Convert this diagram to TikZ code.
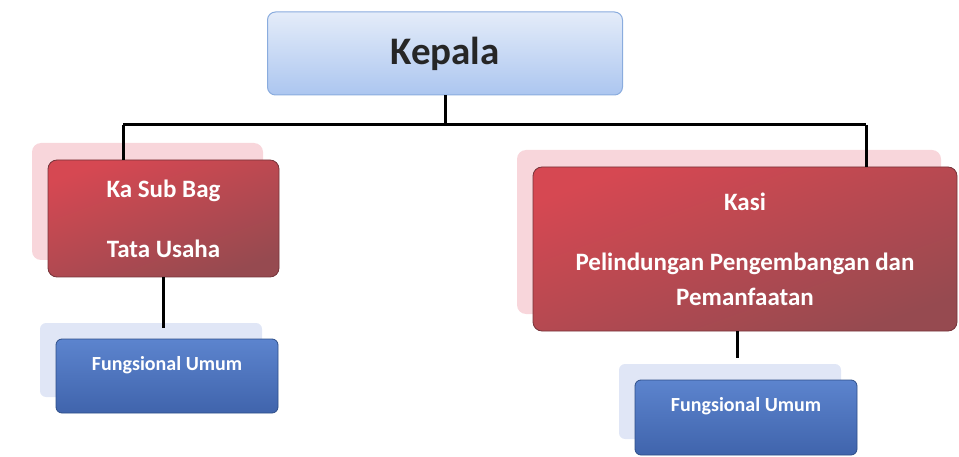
\documentclass[tikz,border=0pt]{standalone}
\usepackage{fontspec}
\setmainfont{Carlito}
\usetikzlibrary{shadows}
\definecolor{headtop}{RGB}{228,236,249}
\definecolor{headbot}{RGB}{172,198,240}
\definecolor{headline}{RGB}{138,172,222}
\definecolor{redtop}{RGB}{214,72,82}
\definecolor{redbot}{RGB}{150,74,80}
\definecolor{redline}{RGB}{118,52,58}
\definecolor{redshade}{RGB}{248,214,219}
\definecolor{bluetop}{RGB}{92,132,206}
\definecolor{bluebot}{RGB}{64,100,172}
\definecolor{blueline}{RGB}{46,78,136}
\definecolor{blueshade}{RGB}{224,230,246}
\begin{document}
\begin{tikzpicture}[x = 1pt, y = -1pt,
  headbox/.style = {draw = headline, line width = 1pt, rounded corners = 8,
    top color = headtop, bottom color = headbot, text = black!85,
    font = \fontsize{39}{42}\selectfont\bfseries, inner sep = 0pt},
  secbox/.style = {draw = redline, line width = .8pt, rounded corners = 9,
    top color = redtop, bottom color = redbot, shading angle = 20,
    text = white, align = center,
    general shadow = {fill = redshade, shadow xshift = -16pt, shadow yshift = 17pt},
    inner sep = 0pt},
  staffbox/.style = {draw = blueline, line width = .8pt, rounded corners = 6,
    top color = bluetop, bottom color = bluebot, text = white,
    general shadow = {fill = blueshade, shadow xshift = -16pt, shadow yshift = 16pt},
    font = \fontsize{20}{24}\selectfont\bfseries, inner sep = 0pt,
    text height = 14pt, text depth = 26pt},
  link/.style = {line width = 3pt, black}]
\useasboundingbox (0, 0) rectangle (959, 457);
\draw (445, 53.5) node[headbox, minimum width = 355pt, minimum height = 83pt] (kepala) {Kepala};
\draw (163.5, 218.5) node[secbox, minimum width = 231pt, minimum height = 117pt,
       font = \fontsize{25}{60}\selectfont\bfseries] (ksb) {Ka Sub Bag\\Tata Usaha};
\draw (745, 249) node[secbox, minimum width = 424pt, minimum height = 164pt,
       font = \fontsize{25}{35}\selectfont\bfseries] (kasi)
       {Kasi\\[25pt]Pelindungan Pengembangan dan\\Pemanfaatan};
\draw (167, 376) node[staffbox, minimum width = 222pt, minimum height = 74pt] (fu1) {Fungsional Umum};
\draw (746, 417.5) node[staffbox, minimum width = 222pt, minimum height = 75pt] (fu2) {Fungsional Umum};
% bus line under the head
\coordinate (busL) at (123, 125);
\coordinate (busR) at (866, 125);
\draw [link] (busL) -- (busR);
\draw [link] (kepala.south) -- (kepala.south |- busL);
\draw [link] (busL) -- (busL |- ksb.north);
\draw [link] (busR) -- (busR |- kasi.north);
\draw [link] (ksb.south) -- ([yshift = 11pt]fu1.north -| ksb.south);
\draw [link] ([xshift = -8pt]kasi.south) -- ([xshift = -9pt, yshift = 22pt]fu2.north);
\end{tikzpicture}
\end{document}
